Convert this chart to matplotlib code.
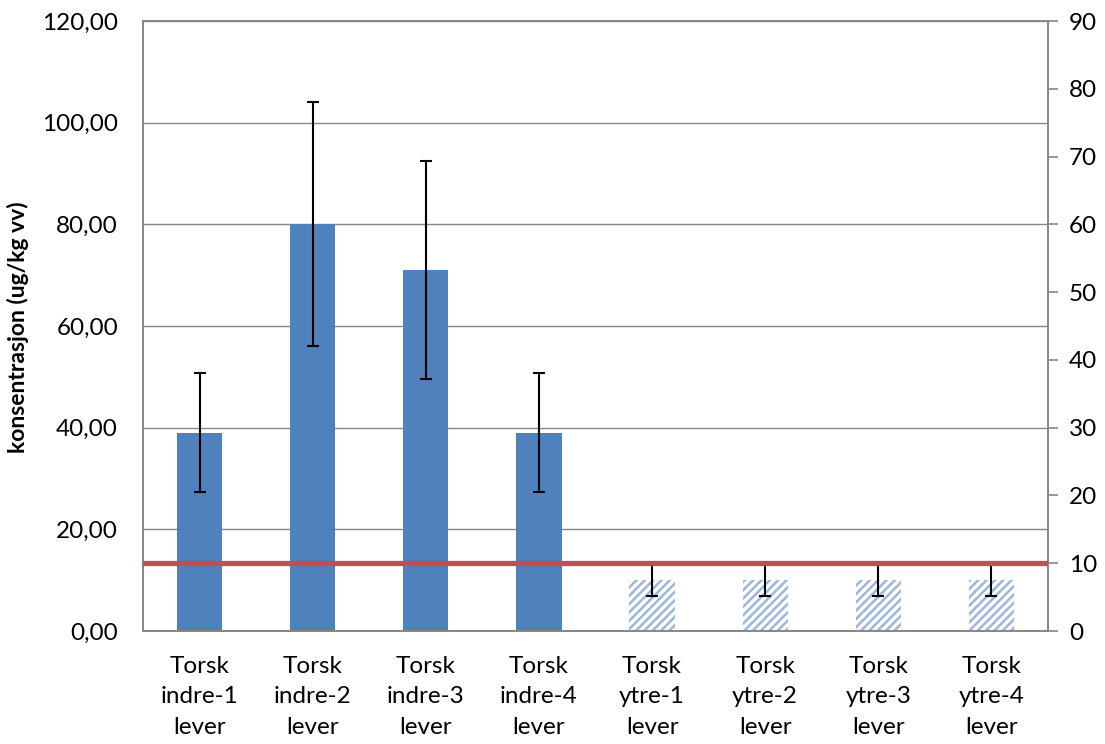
import numpy as np
import matplotlib.pyplot as plt

plt.rcParams['font.family'] = ['Lato', 'DejaVu Sans']
plt.rcParams['hatch.linewidth'] = 1.8

# sample labels and measured concentrations (ug/kg vv)
labels = ["Torsk\nindre-1\nlever", "Torsk\nindre-2\nlever", "Torsk\nindre-3\nlever", "Torsk\nindre-4\nlever",
          "Torsk\nytre-1\nlever", "Torsk\nytre-2\nlever", "Torsk\nytre-3\nlever", "Torsk\nytre-4\nlever"]
values = [39, 80, 71, 39, 10, 10, 10, 10]
errors = [11.7, 24, 21.5, 11.7, 3.1, 3.1, 3.1, 3.1]
below_limit = [False, False, False, False, True, True, True, True]
limit_right = 10  # reference level, right axis scale

bar_blue = '#4F81BD'
hatch_blue = '#9DB6DE'
grid_grey = '#868686'

fig = plt.figure(figsize=(11.05, 7.44), dpi=100)
ax = fig.add_axes([143 / 1105, 1 - 631 / 744, 905 / 1105, 610 / 744])
x = np.arange(len(values))

for xi, v, flag in zip(x, values, below_limit):
    if flag:
        ax.bar(xi, v, width=0.4, facecolor='white', edgecolor=hatch_blue, hatch='////', linewidth=0, zorder=2)
    else:
        ax.bar(xi, v, width=0.4, color=bar_blue, linewidth=0, zorder=2)

ax.errorbar(x, values, yerr=errors, fmt='none', ecolor='black', elinewidth=1.5, capsize=4.5, capthick=1.5, zorder=3)

ax.set_xlim(-0.5, len(values) - 0.5)
ax.set_ylim(0, 120)
ax.set_yticks(np.arange(0, 121, 20))
ax.set_yticklabels([f"{v:.2f}".replace('.', ',') for v in np.arange(0, 121, 20)])
ax.yaxis.grid(True, color=grid_grey, linewidth=1)
ax.set_axisbelow(True)
ax.set_xticks(x)
ax.set_xticklabels(labels, fontsize=17.5, linespacing=1.55)
ax.tick_params(axis='x', length=0, pad=18)
ax.tick_params(axis='y', length=0, pad=18, labelsize=17.5)
for s in ax.spines.values():
    s.set_color(grid_grey)
    s.set_linewidth(1.2)

ax2 = ax.twinx()
ax2.set_ylim(0, 90)
ax2.set_yticks(np.arange(0, 91, 10))
ax2.tick_params(axis='y', direction='out', length=7, width=1.2, color=grid_grey, pad=8, labelsize=17.5)
for s in ax2.spines.values():
    s.set_color(grid_grey)
    s.set_linewidth(1.2)
ax2.axhline(limit_right, color='#C0504D', linewidth=3.8, zorder=4)

fig.text(18 / 1105, 1 - 327 / 744, 'konsentrasjon (ug/kg vv)', rotation=90, fontsize=16.5,
         fontweight='bold', ha='center', va='center')

fig.savefig('out.png', dpi=100)
